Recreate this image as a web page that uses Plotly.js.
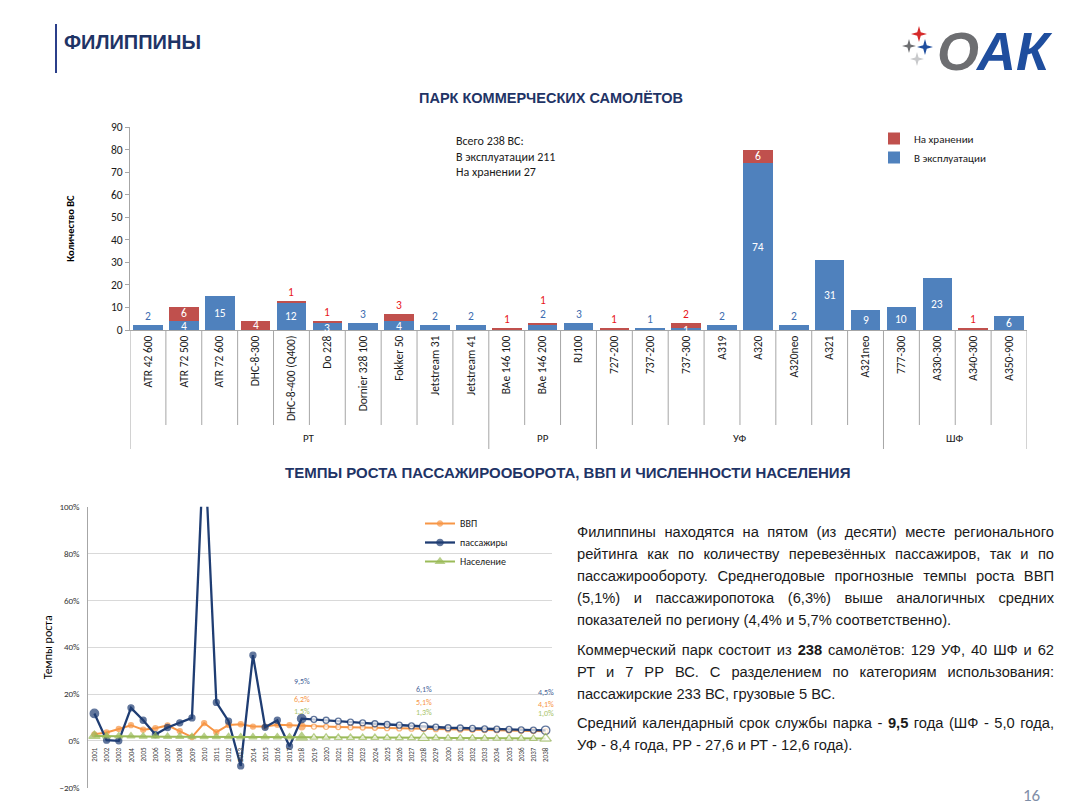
<!DOCTYPE html>
<html><head><meta charset="utf-8">
<script src="https://cdn.plot.ly/plotly-3.0.1.min.js"></script>
<style>
html,body{margin:0;padding:0;background:#fff;}
#chart{position:absolute;left:0;top:0;width:1080px;height:807px;}
#txt{position:absolute;left:577px;top:521px;width:477px;font-family:'Liberation Sans',Arial,sans-serif;font-size:14.7px;line-height:22px;color:#1a1a1a;}
#txt .l{text-align:justify;text-align-last:justify;}
#txt .e{text-align:left;}
#txt .p{margin-bottom:7.5px;}
</style></head><body>
<div id="chart"></div>
<div id="txt">
<div class="p">
<div class="l">Филиппины находятся на пятом (из десяти) месте регионального</div>
<div class="l">рейтинга как по количеству перевезённых пассажиров, так и по</div>
<div class="l">пассажирообороту. Среднегодовые прогнозные темпы роста ВВП</div>
<div class="l">(5,1%) и пассажиропотока (6,3%) выше аналогичных средних</div>
<div class="e">показателей по региону (4,4% и 5,7% соответственно).</div>
</div>
<div class="p">
<div class="l">Коммерческий парк состоит из <b>238</b> самолётов: 129 УФ, 40 ШФ и 62</div>
<div class="l">РТ и 7 РР ВС. С разделением по категориям использования:</div>
<div class="e">пассажирские 233 ВС, грузовые 5 ВС.</div>
</div>
<div class="p">
<div class="l">Средний календарный срок службы парка - <b>9,5</b> года (ШФ - 5,0 года,</div>
<div class="e">УФ - 8,4 года, РР - 27,6 и РТ - 12,6 года).</div>
</div>
</div>
<script>
// ---------------- DATA ----------------
const categories = ['ATR 42 600','ATR 72 500','ATR 72 600','DHC-8-300','DHC-8-400 (Q400)','Do 228','Dornier 328 100','Fokker 50','Jetstream 31','Jetstream 41','BAe 146 100','BAe 146 200','RJ100','727-200','737-200','737-300','A319','A320','A320neo','A321','A321neo','777-300','A330-300','A340-300','A350-900'];
const categoryGroups = ['РТ','РТ','РТ','РТ','РТ','РТ','РТ','РТ','РТ','РТ','РР','РР','РР','УФ','УФ','УФ','УФ','УФ','УФ','УФ','УФ','ШФ','ШФ','ШФ','ШФ'];
const inOperation = [2,4,15,0,12,3,3,4,2,2,0,2,3,0,1,1,2,74,2,31,9,10,23,0,6];
const inStorage   = [0,6,0,4,1,1,0,3,0,0,1,1,0,1,0,2,0,6,0,0,0,0,0,1,0];

const years = ['2001','2002','2003','2004','2005','2006','2007','2008','2009','2010','2011','2012','2013','2014','2015','2016','2017','2018','2019','2020','2021','2022','2023','2024','2025','2026','2027','2028','2029','2030','2031','2032','2033','2034','2035','2036','2037','2038'];
const gdpGrowth = [2.8,3.6,5.1,6.7,4.8,5.4,6.6,4.2,1.6,7.6,3.7,6.8,7.1,6.1,6.1,6.9,6.7,6.2,6.1,6.0,5.9,5.8,5.7,5.6,5.4,5.3,5.2,5.1,5.0,4.9,4.8,4.7,4.6,4.5,4.4,4.3,4.2,4.1];
const passengerGrowth = [11.7,0.3,0.0,14.1,8.8,2.7,5.7,7.7,9.8,130,16.4,8.4,-10.7,36.6,5.8,8.8,-2.3,9.5,9.2,8.8,8.4,8.0,7.7,7.3,7.0,6.7,6.4,6.1,5.9,5.6,5.5,5.3,5.1,5.0,4.9,4.7,4.6,4.5];
const populationGrowth = [2.1,2.0,2.0,2.0,1.9,1.9,1.8,1.8,1.7,1.7,1.7,1.7,1.6,1.6,1.6,1.6,1.6,1.5,1.5,1.5,1.4,1.4,1.4,1.4,1.4,1.3,1.3,1.3,1.3,1.2,1.2,1.2,1.1,1.1,1.1,1.1,1.0,1.0];
const lastActualYear = 2018;
const labelledYears = ['2018','2028','2038'];

// ---------------- STYLE ----------------
const W = 1080, H = 807;
const px = x => x / W, py = y => 1 - y / H;
const ARIAL = "'Liberation Sans', Arial, sans-serif";
const EXCEL = "Carlito, Calibri, Roboto, sans-serif";
const BLUE = '#4f81bd', RED = '#c0504d', NAVY_T = '#1f3466';
const C_PASS = '#1f3d73', C_GDP = '#f79646', C_POP = '#9bbb59';
const LBL_BLUE = '#3d6cb0', LBL_RED = '#e8161b';

const traces = [
  {type:'bar', name:'В эксплуатации', x:categories, y:inOperation, marker:{color:BLUE}, xaxis:'x', yaxis:'y', legend:'legend', hoverinfo:'skip'},
  {type:'bar', name:'На хранении', x:categories, y:inStorage, marker:{color:RED}, xaxis:'x', yaxis:'y', legend:'legend', hoverinfo:'skip'}
];

function lineTrace(name, values, color, symbol, width, bigYears, baseSize, bigSize) {
  return {type:'scatter', mode:'lines+markers', name:name, x:years, y:values, xaxis:'x2', yaxis:'y2', legend:'legend2',
    line:{color:color, width:width},
    marker:{symbol:symbol,
      color: years.map(y => (+y > lastActualYear ? '#ffffff' : color)),
      size: years.map(y => (bigYears.includes(y) ? bigSize : baseSize)),
      line:{color:color, width:1.3}},
    hoverinfo:'skip'};
}
traces.push(lineTrace('ВВП', gdpGrowth, C_GDP, 'circle', 2, ['2018'], 5, 7));
traces.push(lineTrace('пассажиры', passengerGrowth, C_PASS, 'circle', 2.3, ['2001','2018','2028','2038'], 6, 8.5));
traces.push(lineTrace('Население', populationGrowth, C_POP, 'triangle-up', 2, ['2001','2018','2028','2038'], 7, 10));

const annotations = [];
const shapes = [];

// bar value labels
categories.forEach((c, i) => {
  const b = inOperation[i], r = inStorage[i], top = b + r;
  const blueInside = b > 0 && (b >= 4 || (r > 0 && b !== 2));
  if (b > 0) {
    if (blueInside) annotations.push({x:c, y:b/2, xref:'x', yref:'y', text:String(b), showarrow:false, yanchor:'middle', yshift:(r > 0 && b < 6) ? -1 : 0, font:{family:EXCEL, size:11.5, color:'#ffffff'}});
    else annotations.push({x:c, y:top, xref:'x', yref:'y', text:String(b), showarrow:false, yanchor:'bottom', yshift:0, font:{family:EXCEL, size:11.5, color:LBL_BLUE}});
  }
  if (r > 0) {
    if (r >= 4) annotations.push({x:c, y:b + r/2, xref:'x', yref:'y', text:String(r), showarrow:false, yanchor:'middle', yshift:(b > 0 && b < 6) ? 1 : 0, font:{family:EXCEL, size:11.5, color:'#ffffff'}});
    else annotations.push({x:c, y:top, xref:'x', yref:'y', text:String(r), showarrow:false, yanchor:'bottom', yshift:(b > 0 && !blueInside) ? 14 : 0, font:{family:EXCEL, size:11.5, color:LBL_RED}});
  }
});

// fleet summary
const totalOp = inOperation.reduce((a, v) => a + v, 0);
const totalSt = inStorage.reduce((a, v) => a + v, 0);
annotations.push({xref:'paper', yref:'paper', x:px(454), y:py(132), xanchor:'left', yanchor:'top', align:'left', showarrow:false,
  text:'Всего ' + (totalOp + totalSt) + ' ВС:<br>В эксплуатации ' + totalOp + '<br>На хранении ' + totalSt,
  font:{family:EXCEL, size:12, color:'#1a1a1a'}});

// category separators and group labels
const N = categories.length;
for (let k = 0; k <= N; k++) {
  const isGroup = k === 0 || k === N || categoryGroups[k] !== categoryGroups[k - 1];
  shapes.push({type:'line', xref:'x', yref:'paper', x0:k - 0.5, x1:k - 0.5, y0:py(330), y1:py(isGroup ? 449 : 425), line:{color:'#a6a6a6', width:1}});
}
let gs = 0;
for (let k = 1; k <= N; k++) {
  if (k === N || categoryGroups[k] !== categoryGroups[gs]) {
    annotations.push({xref:'x', yref:'paper', x:(gs + k - 1) / 2, y:py(438), text:categoryGroups[gs], showarrow:false, yanchor:'middle', font:{family:EXCEL, size:11, color:'#1a1a1a'}});
    gs = k;
  }
}

// year labels on the zero line (category index positions)
years.forEach((y, i) => annotations.push({xref:'x2', yref:'y2', x:i, y:0, text:y, textangle:-90, showarrow:false, yanchor:'top', yshift:-4, font:{family:EXCEL, size:7, color:'#404040'}}));

// forecast value labels
const fmt = v => v.toFixed(1).replace('.', ',') + '%';
const series = [[passengerGrowth, '#4a6699', 38], [gdpGrowth, C_GDP, 27], [populationGrowth, '#a9c46a', 26]];
labelledYears.forEach(y => {
  const idx = years.indexOf(y);
  series.forEach(([vals, col, sh]) => annotations.push({xref:'x2', yref:'y2', x:idx, y:vals[idx], text:fmt(vals[idx]), showarrow:false, yanchor:'middle', yshift:sh, font:{family:EXCEL, size:8, color:col}}));
});

// titles, logo, page number
annotations.push({xref:'paper', yref:'paper', x:px(62), y:py(42), xanchor:'left', yanchor:'middle', showarrow:false, text:'<b>ФИЛИППИНЫ</b>', font:{family:ARIAL, size:20, color:NAVY_T}});
annotations.push({xref:'paper', yref:'paper', x:px(551), y:py(98), xanchor:'center', yanchor:'middle', showarrow:false, text:'<b>ПАРК КОММЕРЧЕСКИХ САМОЛЁТОВ</b>', font:{family:ARIAL, size:14.5, color:NAVY_T}});
annotations.push({xref:'paper', yref:'paper', x:px(567), y:py(472), xanchor:'center', yanchor:'middle', showarrow:false, text:'<b>ТЕМПЫ РОСТА ПАССАЖИРООБОРОТА, ВВП И ЧИСЛЕННОСТИ НАСЕЛЕНИЯ</b>', font:{family:ARIAL, size:15, color:NAVY_T}});
annotations.push({xref:'paper', yref:'paper', x:px(935), y:py(51), xanchor:'left', yanchor:'middle', showarrow:false,
  text:'<b><i><span style="color:#6d6e71">О</span><span style="color:#1f4e9e">АК</span></i></b>', font:{family:ARIAL, size:54}});
annotations.push({xref:'paper', yref:'paper', x:px(1032), y:py(795), xanchor:'center', yanchor:'middle', showarrow:false, text:'16', font:{family:EXCEL, size:17, color:'#7f8ea8'}});

shapes.push({type:'line', xref:'paper', yref:'paper', x0:px(56), x1:px(56), y0:py(24), y1:py(73), line:{color:'#2b3f8a', width:2}});
function star(cx, cy, r, color) {
  const pts = [[0,-r],[r*0.22,-r*0.22],[r,0],[r*0.22,r*0.22],[0,r],[-r*0.22,r*0.22],[-r,0],[-r*0.22,-r*0.22]];
  return {type:'path', xref:'paper', yref:'paper', fillcolor:color, line:{width:0},
    path:'M ' + pts.map(p => px(cx + p[0]) + ',' + py(cy + p[1])).join(' L ') + ' Z'};
}
shapes.push(star(919, 34, 8, '#d62b2b'));
shapes.push(star(909, 46, 7, '#6d6e71'));
shapes.push(star(925, 47, 8, '#1f4e9e'));
shapes.push(star(917, 59, 7, '#c8c9cb'));

const layout = {
  width:W, height:H, margin:{l:0, r:0, t:0, b:0},
  paper_bgcolor:'#ffffff', plot_bgcolor:'rgba(0,0,0,0)',
  barmode:'stack', bargap:0.175, showlegend:true,
  font:{family:EXCEL, color:'#404040'},
  xaxis:{domain:[px(130), px(1027)], anchor:'y', type:'category', range:[-0.5, N - 0.5], tickangle:-90,
    tickfont:{family:EXCEL, size:11.5, color:'#1a1a1a'}, showline:true, linecolor:'#a6a6a6', ticks:'', showgrid:false, fixedrange:true},
  yaxis:{domain:[py(330), py(127)], anchor:'x', range:[0, 90], dtick:10, showline:true, linecolor:'#a6a6a6', ticks:'outside', ticklen:4, tickcolor:'#a6a6a6',
    showgrid:false, zeroline:false, tickfont:{family:EXCEL, size:11.5, color:'#1a1a1a'},
    title:{text:'<b>Количество ВС</b>', font:{family:EXCEL, size:10.5, color:'#000'}, standoff:34}},
  xaxis2:{domain:[px(88.3), px(551.7)], anchor:'y2', type:'category', range:[-0.5, years.length - 0.5], showticklabels:false, showline:false, showgrid:false, ticks:'', zeroline:false},
  yaxis2:{domain:[py(787.7), py(506.7)], anchor:'x2', range:[-20, 100], dtick:20, ticksuffix:'%', showgrid:true, gridcolor:'#d9d9d9', gridwidth:1,
    showline:true, linecolor:'#a6a6a6', zeroline:false, ticks:'', ticklabelstandoff:6, tickfont:{family:EXCEL, size:9, color:'#333'},
    title:{text:'Темпы роста', font:{family:EXCEL, size:12, color:'#000'}, standoff:4}},
  legend:{x:px(874), y:py(124), xanchor:'left', yanchor:'top', traceorder:'reversed', bgcolor:'rgba(0,0,0,0)', font:{family:EXCEL, size:11, color:'#1a1a1a'}, itemwidth:30},
  legend2:{x:px(420), y:py(509), xanchor:'left', yanchor:'top', bgcolor:'rgba(0,0,0,0)', font:{family:EXCEL, size:10, color:'#1a1a1a'}, itemwidth:30},
  annotations:annotations, shapes:shapes
};

Plotly.newPlot('chart', traces, layout, {displayModeBar:false, staticPlot:true});
</script>
</body></html>
